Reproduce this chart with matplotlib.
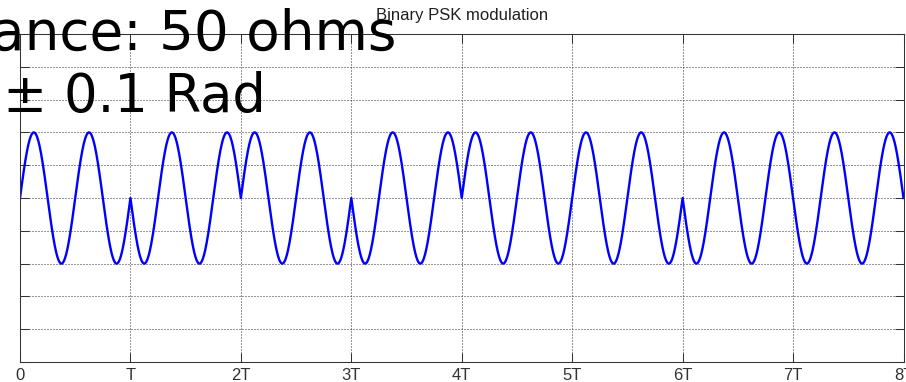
import numpy as np
import matplotlib
matplotlib.use("Agg")
import matplotlib.pyplot as plt
from matplotlib.lines import Line2D

# ---- data ----
bits = [1, 0, 1, 0, 1, 1, 0, 0]          # transmitted bit per symbol period T
carrier_cycles_per_bit = 2               # carrier cycles inside one T
amplitude = 1.0
x_tick_pos = [0, 1, 2, 3, 4, 5, 6, 7, 8]
x_tick_labels = ["0", "T", "2T", "3T", "4T", "5T", "6T", "7T", "8T"]
y_tick_pos = [-2.5, -2.0, -1.5, -1.0, -0.5, 0.0, 0.5, 1.0, 1.5, 2.0, 2.5]
title = "Binary PSK modulation"
overlay_line1 = "ance: 50 ohms"
overlay_line2 = "± 0.1 Rad"

# ---- signal (BPSK: phase 0 for bit 1, phase pi for bit 0) ----
t = np.linspace(0, len(bits), 3201)
idx = np.minimum(t.astype(int), len(bits) - 1)
sym = np.where(np.array(bits)[idx] == 1, 1.0, -1.0)
s = amplitude * sym * np.sin(2 * np.pi * carrier_cycles_per_bit * t)

W, H = 906, 382
fig = plt.figure(figsize=(W / 100, H / 100), dpi=100)
fig.patch.set_facecolor("white")

left, right, top, bottom = 20, 903.5, 34, 362
ax = fig.add_axes([left / W, 1 - bottom / H, (right - left) / W, (bottom - top) / H])

ax.plot(t, s, color="#0000ff", lw=1.7, solid_joinstyle="round")

ax.set_xlim(0, 8)
ax.set_ylim(-2.5, 2.5)
ax.set_xticks(x_tick_pos)
ax.set_xticklabels(x_tick_labels)
ax.set_yticks(y_tick_pos)
ax.set_yticklabels([])

spine_c = "#333333"
for sp in ax.spines.values():
    sp.set_color(spine_c)
    sp.set_linewidth(0.75)

ax.tick_params(axis="both", which="both", direction="in", length=6.5, width=0.75,
               color=spine_c, top=True, right=True, labelsize=12,
               labelcolor="#333333", pad=4.5)
for lab in ax.get_xticklabels():
    lab.set_fontfamily("Liberation Sans")

ax.grid(True, color="#303030", linestyle=(0, (1, 2)), linewidth=0.72)

ax.set_title(title, fontsize=12, fontfamily="Liberation Sans", color="#202020", pad=10)

# stray top line extending to the left edge
fig.add_artist(Line2D([0, left / W], [1 - top / H, 1 - top / H],
                      transform=fig.transFigure, color=spine_c, lw=0.75))

# large overlay text (clipped by the figure edge)
fig.text(396 / W, 1 - 50 / H, overlay_line1, ha="right", va="baseline",
         fontsize=39.5, fontfamily="DejaVu Sans", color="black")
fig.text(266 / W, 1 - 112 / H, overlay_line2, ha="right", va="baseline",
         fontsize=38, fontfamily="DejaVu Sans", color="black")

fig.savefig("out.png", dpi=100, facecolor="white")
